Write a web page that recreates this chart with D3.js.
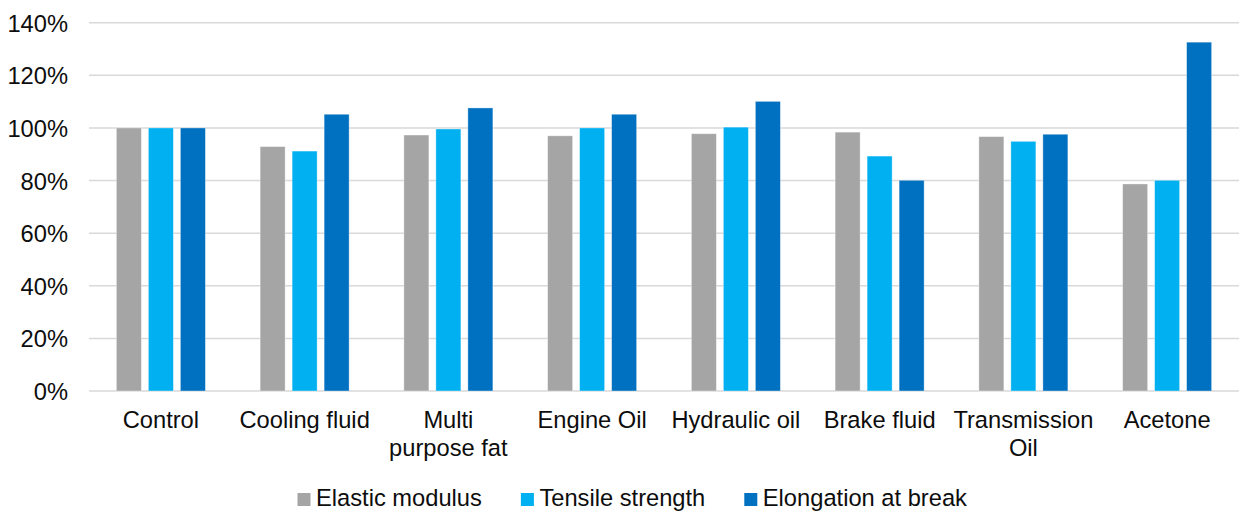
<!DOCTYPE html>
<html>
<head>
<meta charset="utf-8">
<script src="https://cdn.jsdelivr.net/npm/d3@7/dist/d3.min.js"></script>
<style>
  html, body { margin: 0; padding: 0; background: #fff; }
  svg { display: block; font-family: "Liberation Sans", Arial, sans-serif; }
</style>
</head>
<body>
<svg id="chart" width="1241" height="511"></svg>
<script>
const categories = ["Control", "Cooling fluid", "Multi purpose fat", "Engine Oil", "Hydraulic oil", "Brake fluid", "Transmission Oil", "Acetone"];
const seriesNames = ["Elastic modulus", "Tensile strength", "Elongation at break"];
const elasticModulus = [100, 92.9, 97.3, 97.0, 97.8, 98.4, 96.7, 78.7];
const tensileStrength = [100, 91.2, 99.6, 100, 100.3, 89.3, 94.9, 80.1];
const elongationAtBreak = [100, 105.2, 107.6, 105.2, 110.1, 80.1, 97.6, 132.6];
const yTicks = [0, 20, 40, 60, 80, 100, 120, 140];
const colors = ["#A5A5A5", "#00B0F0", "#0070C0"];

const seriesValues = [elasticModulus, tensileStrength, elongationAtBreak];

const svg = d3.select("#chart");
const plotLeft = 89, plotRight = 1239, plotTop = 22.7, plotBottom = 391;
const fontSize = 23.7;

const y = d3.scaleLinear().domain([0, 140]).range([plotBottom, plotTop]);
const x0 = d3.scaleBand().domain(categories).range([plotLeft, plotRight]).paddingInner(0).paddingOuter(0);
const x1 = d3.scaleBand().domain(seriesNames).range([-44.5, 44.5]).paddingInner(0.21875).paddingOuter(0);

// gridlines
svg.append("g")
  .selectAll("line")
  .data(yTicks)
  .join("line")
  .attr("x1", plotLeft).attr("x2", plotRight)
  .attr("y1", d => y(d)).attr("y2", d => y(d))
  .attr("stroke", "#D9D9D9")
  .attr("stroke-width", 1.5);

// y axis labels
const yAxis = d3.axisLeft(y).tickValues(yTicks).tickFormat(d => d + "%").tickSize(0).tickPadding(0);
const yg = svg.append("g").attr("transform", `translate(68,0)`).call(yAxis);
yg.select(".domain").remove();
yg.selectAll("text")
  .attr("font-size", fontSize)
  .attr("font-family", "Liberation Sans, Arial, sans-serif")
  .attr("fill", "#0d0d0d")
  .attr("dy", "0.36em");

// bars
const groups = svg.append("g")
  .selectAll("g")
  .data(categories)
  .join("g")
  .attr("transform", d => `translate(${x0(d) + x0.bandwidth() / 2},0)`);

groups.selectAll("rect")
  .data((c, i) => seriesNames.map((s, j) => ({ s, j, v: seriesValues[j][i] })))
  .join("rect")
  .attr("x", d => x1(d.s))
  .attr("width", x1.bandwidth())
  .attr("y", d => y(d.v))
  .attr("height", d => y(0) - y(d.v))
  .attr("fill", d => colors[d.j])
  .attr("stroke", "#ffffff")
  .attr("stroke-opacity", 0.45)
  .attr("stroke-width", 0.8);

// x axis labels with wrapping
const xAxis = d3.axisBottom(x0).tickSize(0).tickPadding(0);
const xg = svg.append("g").attr("transform", `translate(0,${plotBottom})`).call(xAxis);
xg.select(".domain").remove();
xg.selectAll("text")
  .attr("font-size", fontSize)
  .attr("font-family", "Liberation Sans, Arial, sans-serif")
  .attr("fill", "#0d0d0d")
  .attr("y", 0)
  .attr("dy", null)
  .each(function (d) {
    const t = d3.select(this);
    const words = d.split(" ");
    t.text(null);
    const maxW = 136;
    let lines = [];
    let line = [];
    const probe = t.append("tspan");
    words.forEach(w => {
      const test = line.concat([w]).join(" ");
      probe.text(test);
      if (probe.node().getComputedTextLength() > maxW && line.length) {
        lines.push(line.join(" "));
        line = [w];
      } else {
        line.push(w);
      }
    });
    lines.push(line.join(" "));
    probe.remove();
    lines.forEach((l, k) => {
      t.append("tspan").attr("x", 0).attr("y", 37 + k * 27.5).text(l);
    });
  });

// legend
const legend = svg.append("g");
const items = legend.selectAll("g").data(seriesNames).join("g");
items.append("rect")
  .attr("width", 13).attr("height", 13)
  .attr("y", 493)
  .attr("fill", (d, i) => colors[i]);
items.append("text")
  .attr("x", 18.5).attr("y", 506)
  .attr("font-size", fontSize)
  .attr("fill", "#0d0d0d")
  .text(d => d);
let widths = [];
items.each(function () {
  widths.push(18.5 + d3.select(this).select("text").node().getComputedTextLength());
});
const gap = 39;
let cx = 297.5;
items.attr("transform", (d, i) => {
  const tx = cx;
  cx += widths[i] + gap;
  return `translate(${tx},0)`;
});
</script>
</body>
</html>
